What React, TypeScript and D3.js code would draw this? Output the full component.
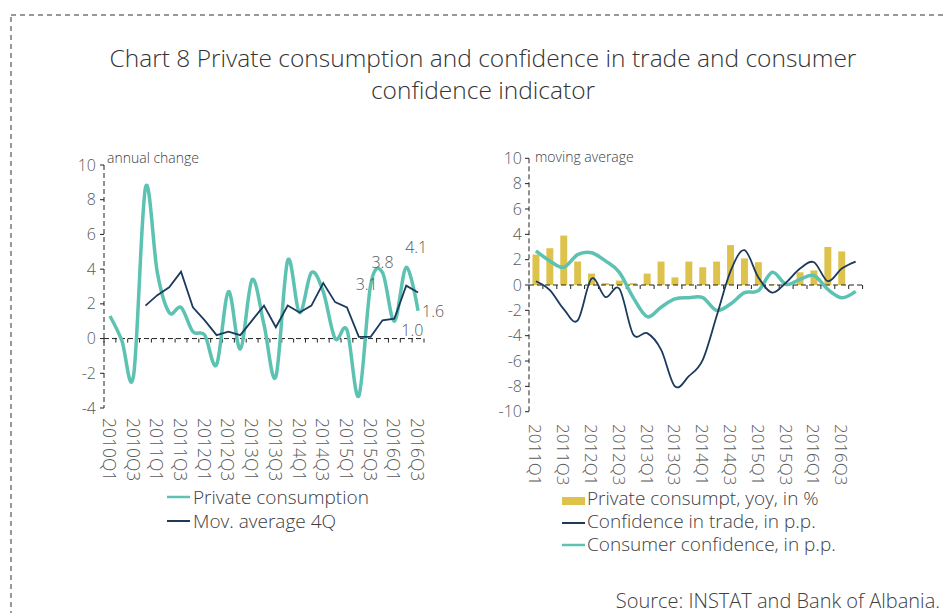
import * as d3 from 'd3';

// Left panel: private consumption (annual change) and its 4Q moving average
const quartersL = [
  '2010Q1', '2010Q2', '2010Q3', '2010Q4', '2011Q1', '2011Q2', '2011Q3', '2011Q4',
  '2012Q1', '2012Q2', '2012Q3', '2012Q4', '2013Q1', '2013Q2', '2013Q3', '2013Q4',
  '2014Q1', '2014Q2', '2014Q3', '2014Q4', '2015Q1', '2015Q2', '2015Q3', '2015Q4',
  '2016Q1', '2016Q2', '2016Q3',
];
const privateConsumption = [
  1.3, -0.1, -2.1, 8.7, 3.8, 1.5, 1.8, 0.4, 0.2, -1.5, 2.7, -0.6, 3.4, 0.8,
  -2.2, 4.5, 1.5, 3.8, 2.7, 0.0, 0.5, -3.3, 3.1, 3.8, 1.0, 4.1, 1.6,
];
const movAverage4Q: (number | null)[] = [
  null, null, null, 1.9, 2.5, 2.95, 3.85, 1.8, 1.05, 0.2, 0.4, 0.2, 1.05, 1.9,
  0.65, 1.9, 1.5, 1.9, 3.2, 2.1, 1.8, 0.1, 0.1, 1.05, 1.15, 3.05, 2.65,
];
const labelledPoints = [22, 23, 24, 25, 26]; // indexes of privateConsumption with value labels
const leftTicks = [-4, -2, 0, 2, 4, 6, 8, 10];

// Right panel: moving averages
const quartersR = [
  '2011Q1', '2011Q2', '2011Q3', '2011Q4', '2012Q1', '2012Q2', '2012Q3', '2012Q4',
  '2013Q1', '2013Q2', '2013Q3', '2013Q4', '2014Q1', '2014Q2', '2014Q3', '2014Q4',
  '2015Q1', '2015Q2', '2015Q3', '2015Q4', '2016Q1', '2016Q2', '2016Q3', '2016Q4',
];
const privateYoy: (number | null)[] = [
  2.4, 2.9, 3.9, 1.85, 0.9, 0.15, 0.35, 0.15, 0.9, 1.85, 0.6, 1.85, 1.4, 1.85,
  3.15, 2.1, 1.8, 0.05, 0.05, 1.0, 1.15, 3.0, 2.65, null,
];
const tradeConfidence = [
  0.3, -0.4, -1.9, -2.8, 0.5, -0.95, -0.3, -3.9, -3.8, -5.1, -8.0, -7.2, -5.9,
  -2.45, 1.1, 2.75, 0.6, -0.6, 0.2, 1.3, 1.8, 0.3, 1.3, 1.85,
];
const consumerConfidence = [
  2.7, 1.9, 1.4, 2.4, 2.55, 1.9, 1.0, -1.0, -2.5, -1.75, -1.1, -1.0, -1.0, -2.0,
  -1.5, -0.6, -0.45, 1.0, 0.05, 0.45, 0.75, -0.35, -1.0, -0.5,
];
const rightTicks = [-10, -8, -6, -4, -2, 0, 2, 4, 6, 8, 10];

const FONT = '"Open Sans", "DejaVu Sans", sans-serif';
const TEAL = '#5cc2b2';
const NAVY = '#1b3a5c';
const GOLD = '#ddc24c';
const TICK_TXT = '#595959';

// label offsets for the last value labels, by point index
const LABEL_OFFSET: Record<number, [number, number, string]> = {
  22: [-4, 5, 'middle'],
  23: [0, -5, 'middle'],
  24: [7, 15, 'start'],
  25: [10, -14, 'middle'],
  26: [4, 6, 'start'],
};

function LeftPanel() {
  const x = d3.scaleBand<string>().domain(quartersL).range([104, 424]);
  const y = d3.scaleLinear().domain([-4, 10]).range([408, 165]);
  const cx = (i: number) => (x(quartersL[i]) ?? 0) + x.bandwidth() / 2;
  const smooth = d3
    .line<number>()
    .x((_, i) => cx(i))
    .y((d) => y(d))
    .curve(d3.curveCardinal.tension(0));
  const straight = d3
    .line<number | null>()
    .defined((d) => d !== null)
    .x((_, i) => cx(i))
    .y((d) => y(d as number));
  const y0 = y(0);

  return (
    <g fontFamily={FONT} fontWeight={300}>
      {/* x axis on zero */}
      <line x1={104} x2={424} y1={y0} y2={y0} stroke="#222" strokeDasharray="5,3" />
      {quartersL.map((q) => (
        <line key={q} x1={x(q)} x2={x(q)} y1={y0} y2={y0 + 4} stroke="#222" />
      ))}
      <line x1={424} x2={424} y1={y0} y2={y0 + 4} stroke="#222" />
      {/* y axis */}
      <line x1={104} x2={104} y1={165} y2={408} stroke="#222" strokeDasharray="5,3" />
      {leftTicks.map((t) => (
        <g key={t}>
          <line x1={100} x2={104} y1={y(t)} y2={y(t)} stroke="#222" />
          <text x={96} y={y(t)} dy="0.35em" textAnchor="end" fontSize={16} fill={TICK_TXT}>
            {t}
          </text>
        </g>
      ))}
      <text x={107} y={163} fontSize={14} fill="#404040">annual change</text>
      {quartersL.map((q, i) =>
        i % 2 === 0 ? (
          <text
            key={q}
            transform={`translate(${cx(i)},418) rotate(90)`}
            dominantBaseline="central"
            fontSize={17.5}
            fill={TICK_TXT}
          >
            {q}
          </text>
        ) : null
      )}
      <path d={smooth(privateConsumption) ?? ''} fill="none" stroke={TEAL} strokeWidth={3.5} />
      <path d={straight(movAverage4Q) ?? ''} fill="none" stroke={NAVY} strokeWidth={1.8} />
      {labelledPoints.map((i) => {
        const [dx, dy, anchor] = LABEL_OFFSET[i];
        return (
          <text
            key={i}
            x={cx(i) + dx}
            y={y(privateConsumption[i]) + dy}
            textAnchor={anchor}
            fontSize={16}
            fill={TICK_TXT}
          >
            {privateConsumption[i].toFixed(1)}
          </text>
        );
      })}
      {/* legend */}
      <line x1={167} x2={190} y1={497} y2={497} stroke={TEAL} strokeWidth={2.5} />
      <text x={193} y={504} fontSize={19} fill="#404040">Private consumption</text>
      <line x1={167} x2={190} y1={521} y2={521} stroke={NAVY} strokeWidth={2} />
      <text x={193} y={528} fontSize={19} fill="#404040">Mov. average 4Q</text>
    </g>
  );
}

function RightPanel() {
  const x = d3.scaleBand<string>().domain(quartersR).range([529, 862.6]);
  const y = d3.scaleLinear().domain([-10, 10]).range([411.7, 158.3]);
  const cx = (i: number) => (x(quartersR[i]) ?? 0) + x.bandwidth() / 2;
  const smooth = d3
    .line<number>()
    .x((_, i) => cx(i))
    .y((d) => y(d))
    .curve(d3.curveCardinal.tension(0));
  const y0 = y(0);
  const bw = x.bandwidth() * 0.5;

  return (
    <g fontFamily={FONT} fontWeight={300}>
      {privateYoy.map((v, i) =>
        v === null ? null : (
          <rect
            key={i}
            x={cx(i) - bw / 2}
            y={y(Math.max(v, 0))}
            width={bw}
            height={Math.abs(y(v) - y0)}
            fill={GOLD}
          />
        )
      )}
      <line x1={529} x2={862.6} y1={y0} y2={y0} stroke="#222" strokeDasharray="5,3" />
      {quartersR.map((q) => (
        <line key={q} x1={x(q)} x2={x(q)} y1={y0} y2={y0 + 4} stroke="#222" />
      ))}
      <line x1={862.6} x2={862.6} y1={y0} y2={y0 + 4} stroke="#222" />
      <line x1={529} x2={529} y1={158.3} y2={411.7} stroke="#222" strokeDasharray="5,3" />
      {rightTicks.map((t) => (
        <g key={t}>
          <line x1={525} x2={529} y1={y(t)} y2={y(t)} stroke="#222" />
          <text x={522} y={y(t)} dy="0.35em" textAnchor="end" fontSize={16} fill={TICK_TXT}>
            {t}
          </text>
        </g>
      ))}
      <text x={535} y={162} fontSize={14} fill="#404040">moving average</text>
      {quartersR.map((q, i) =>
        i % 2 === 0 ? (
          <text
            key={q}
            transform={`translate(${cx(i)},424) rotate(90)`}
            dominantBaseline="central"
            fontSize={17}
            fill={TICK_TXT}
          >
            {q}
          </text>
        ) : null
      )}
      <path d={smooth(consumerConfidence) ?? ''} fill="none" stroke={TEAL} strokeWidth={3.5} />
      <path d={smooth(tradeConfidence) ?? ''} fill="none" stroke={NAVY} strokeWidth={1.8} />
      {/* legend */}
      <rect x={562} y={497} width={23} height={8} fill={GOLD} />
      <text x={587} y={505} fontSize={19} fill="#404040">Private consumpt, yoy, in %</text>
      <line x1={562} x2={585} y1={523} y2={523} stroke={NAVY} strokeWidth={2} />
      <text x={587} y={528} fontSize={19} fill="#404040">Confidence in trade, in p.p.</text>
      <line x1={562} x2={585} y1={545} y2={545} stroke={TEAL} strokeWidth={2.5} />
      <text x={587} y={551} fontSize={19} fill="#404040">Consumer confidence, in p.p.</text>
    </g>
  );
}

export default function App() {
  return (
    <svg
      width={945}
      height={613}
      style={{ position: 'absolute', left: 0, top: 0, background: '#fff' }}
    >
      <rect
        x={11}
        y={15}
        width={1000}
        height={700}
        fill="none"
        stroke="#333"
        strokeDasharray="5,4"
      />
      <g fontFamily={FONT} fontWeight={300} fill="#333" fontSize={24.5} textAnchor="middle">
        <text x={483} y={67}>
          Chart 8 Private consumption and confidence in trade and consumer
        </text>
        <text x={483} y={99}>confidence indicator</text>
      </g>
      <LeftPanel />
      <RightPanel />
      <text x={940} y={608} textAnchor="end" fontFamily={FONT} fontWeight={300} fontSize={20} fill="#404040">
        Source: INSTAT and Bank of Albania.
      </text>
    </svg>
  );
}
